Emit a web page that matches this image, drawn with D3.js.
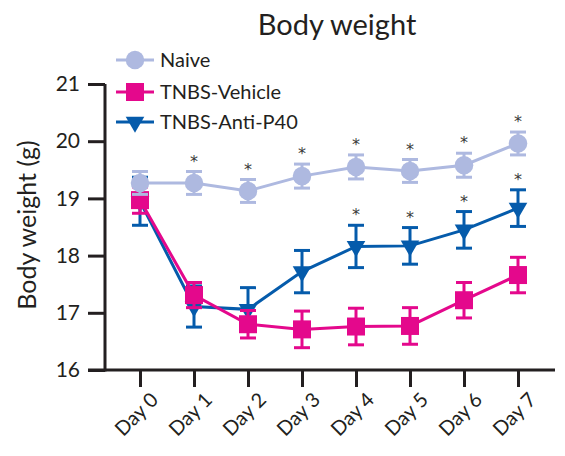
<!DOCTYPE html>
<html>
<head>
<meta charset="utf-8">
<script src="https://cdn.jsdelivr.net/npm/d3@7"></script>
<style>
  html, body { margin: 0; padding: 0; background: #fff; }
  svg { display: block; font-family: Lato, "Open Sans", sans-serif; }
</style>
</head>
<body>
<svg id="chart" width="565" height="456"></svg>
<script>
const days = ["Day 0", "Day 1", "Day 2", "Day 3", "Day 4", "Day 5", "Day 6", "Day 7"];
const naiveMean   = [19.27, 19.27, 19.13, 19.39, 19.55, 19.48, 19.58, 19.96];
const naiveSem    = [0.20, 0.20, 0.20, 0.21, 0.21, 0.20, 0.21, 0.20];
const vehicleMean = [18.97, 17.31, 16.80, 16.71, 16.76, 16.77, 17.22, 17.66];
const vehicleSem  = [0.23, 0.22, 0.24, 0.32, 0.32, 0.32, 0.31, 0.31];
const antiMean    = [18.95, 17.11, 17.06, 17.72, 18.16, 18.17, 18.45, 18.83];
const antiSem     = [0.42, 0.36, 0.38, 0.37, 0.37, 0.32, 0.32, 0.32];
const naiveSig    = [false, true, true, true, true, true, true, true];
const antiSig     = [false, false, false, false, true, true, true, true];
const yTicks      = [16, 17, 18, 19, 20, 21];
const seriesNames = ["Naive", "TNBS-Vehicle", "TNBS-Anti-P40"];
const seriesColors = ["#aeb9e0", "#e4088c", "#055bab"];

const svg = d3.select("#chart");
const x = d3.scalePoint().domain(days).range([140, 518]);
const y = d3.scaleLinear().domain([16, 21]).range([370, 84]);
const axisColor = "#231f20";

const series = [
  { name: seriesNames[0], color: seriesColors[0], mean: naiveMean, sem: naiveSem, sig: naiveSig, shape: "circle" },
  { name: seriesNames[1], color: seriesColors[1], mean: vehicleMean, sem: vehicleSem, sig: null, shape: "square" },
  { name: seriesNames[2], color: seriesColors[2], mean: antiMean, sem: antiSem, sig: antiSig, shape: "triangle" }
];

function symbolPath(shape) {
  if (shape === "circle") return d3.symbol(d3.symbolCircle, 270)();
  if (shape === "square") return d3.symbol(d3.symbolSquare, 324)();
  return d3.symbol(d3.symbolTriangle, 150)();
}
function symbolTransform(shape, cx, cy) {
  return shape === "triangle" ? `translate(${cx},${cy}) rotate(180)` : `translate(${cx},${cy})`;
}

// Axes
const yAxis = d3.axisLeft(y).tickValues(yTicks).tickSize(17).tickPadding(8).tickFormat(d3.format("d"));
const gy = svg.append("g").attr("transform", "translate(105,0)").call(yAxis);
gy.select(".domain").attr("stroke", axisColor).attr("stroke-width", 3).attr("d", `M0,${y(21)}V${y(16) + 1.5}`);
gy.selectAll(".tick line").attr("stroke", axisColor).attr("stroke-width", 3);
gy.selectAll(".tick text").attr("fill", axisColor).attr("font-size", 21).attr("font-family", "Lato, sans-serif");

const xAxis = d3.axisBottom(x).tickSize(17).tickFormat(d => d);
const gx = svg.append("g").attr("transform", `translate(0,${y(16)})`).call(xAxis);
gx.select(".domain").attr("stroke", axisColor).attr("stroke-width", 3).attr("d", "M88,0H555");
gx.selectAll(".tick line").attr("stroke", axisColor).attr("stroke-width", 3);
gx.selectAll(".tick text")
  .attr("fill", axisColor).attr("font-size", 20).attr("font-family", "Lato, sans-serif")
  .attr("text-anchor", "end").attr("dy", null).attr("y", null)
  .attr("transform", "translate(19,31) rotate(-45)");

// Axis label
svg.append("text")
  .attr("transform", `translate(36,${(y(16) + y(21)) / 2 - 2}) rotate(-90)`)
  .attr("text-anchor", "middle")
  .attr("font-size", 25).attr("fill", axisColor)
  .text("Body weight (g)");

// Title
svg.append("text")
  .attr("x", 337).attr("y", 35)
  .attr("text-anchor", "middle")
  .attr("font-size", 29).attr("fill", axisColor)
  .text("Body weight");

// Series drawn bottom-to-top: Anti, Vehicle, Naive
const drawOrder = [2, 1, 0];
drawOrder.forEach(si => {
  const s = series[si];
  const g = svg.append("g");
  const pts = days.map((d, i) => ({ d, m: s.mean[i], e: s.sem[i] }));
  pts.forEach(p => {
    const cx = x(p.d);
    g.append("line").attr("x1", cx).attr("x2", cx).attr("y1", y(p.m - p.e)).attr("y2", y(p.m + p.e))
      .attr("stroke", s.color).attr("stroke-width", 3);
    [p.m - p.e, p.m + p.e].forEach(v => {
      g.append("line").attr("x1", cx - 8).attr("x2", cx + 8).attr("y1", y(v)).attr("y2", y(v))
        .attr("stroke", s.color).attr("stroke-width", 3);
    });
  });
  g.append("path").datum(pts)
    .attr("d", d3.line().x(p => x(p.d)).y(p => y(p.m)))
    .attr("fill", "none").attr("stroke", s.color).attr("stroke-width", 3);
  pts.forEach(p => {
    g.append("path").attr("d", symbolPath(s.shape))
      .attr("transform", symbolTransform(s.shape, x(p.d), y(p.m)))
      .attr("fill", s.color);
  });
});

// Significance stars
series.forEach(s => {
  if (!s.sig) return;
  days.forEach((d, i) => {
    if (!s.sig[i]) return;
    svg.append("text")
      .attr("x", x(d)).attr("y", y(s.mean[i] + s.sem[i]) - 15 + 10)
      .attr("text-anchor", "middle")
      .attr("font-size", 16).attr("fill", "#3a3a3a")
      .attr("font-family", "DejaVu Sans, sans-serif")
      .text("*");
  });
});

// Legend
const legendY = [60, 92, 122];
series.forEach((s, i) => {
  const ly = legendY[i];
  const lg = svg.append("g");
  lg.append("line").attr("x1", 116).attr("x2", 154).attr("y1", ly).attr("y2", ly)
    .attr("stroke", s.color).attr("stroke-width", 3);
  lg.append("path").attr("d", symbolPath(s.shape))
    .attr("transform", symbolTransform(s.shape, 135, ly)).attr("fill", s.color);
  lg.append("text").attr("x", 160).attr("y", ly + 7)
    .attr("font-size", 20).attr("fill", axisColor).text(s.name);
});
</script>
</body>
</html>
